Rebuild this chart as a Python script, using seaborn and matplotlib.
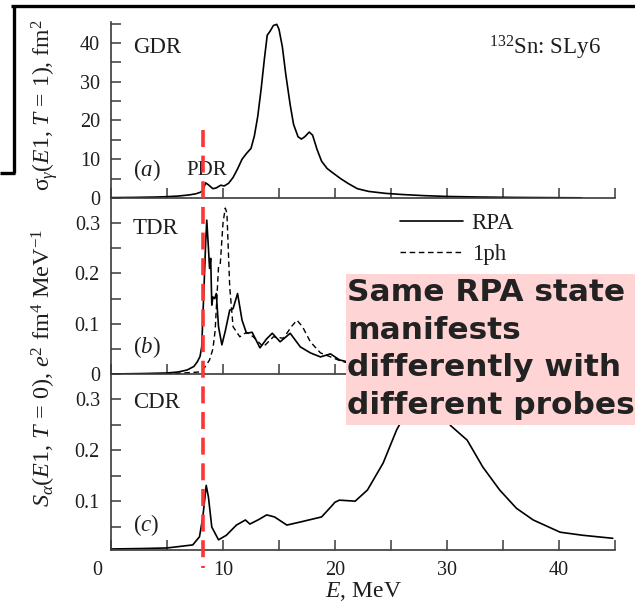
import matplotlib
matplotlib.use("Agg")
import matplotlib.pyplot as plt
import seaborn as sns
import numpy as np
from matplotlib.lines import Line2D
from matplotlib.patches import Rectangle
import matplotlib.transforms as mtransforms

# ---------------- data ----------------
# Panel (a): photoabsorption cross section, GDR
E_a = [0, 2, 4, 5, 6, 7, 7.6, 8.0, 8.2, 8.45, 8.7, 9.1, 9.4, 9.8, 10.1, 10.5,
       10.9, 11.3, 11.7, 12.1, 12.5, 12.8, 13.1, 13.4, 13.7, 13.95, 14.2, 14.5,
       14.8, 15.0, 15.3, 15.6, 16.0, 16.3, 16.7, 17.0, 17.3, 17.7, 18.0, 18.4,
       18.8, 19.3, 19.8, 20.5, 21.2, 22.0, 23.0, 24.5, 26, 28, 30, 33, 36, 40, 42]
sigma_a = [0.1, 0.15, 0.25, 0.35, 0.5, 0.8, 1.1, 1.5, 2.0, 3.9, 3.4, 2.4, 2.6, 3.3, 3.1, 3.8,
           5.3, 7.5, 10.0, 11.5, 12.8, 16.0, 21.0, 28.0, 36.0, 42.0, 43.0, 44.5,
           44.8, 43.5, 39.0, 32.0, 24.0, 19.0, 15.8, 15.2, 15.8, 17.0, 16.2, 12.5,
           9.5, 7.6, 6.5, 5.0, 3.7, 2.4, 1.7, 1.2, 0.9, 0.6, 0.4, 0.25, 0.15, 0.08, 0.05]

# Panel (b): toroidal strength, RPA and 1ph
E_b_rpa = [0, 3, 5, 6, 6.8, 7.4, 7.7, 7.95, 8.1, 8.3, 8.45, 8.55, 8.7, 8.8, 8.9,
           9.0, 9.1, 9.25, 9.4, 9.6, 9.9, 10.2, 10.6, 10.9, 11.3, 11.7, 12.1, 12.6,
           13.3, 13.9, 14.4, 15.1, 16.0, 16.9, 17.8, 18.7, 19.6, 20.4, 21.5, 23, 25]
S_b_rpa = [0.0, 0.001, 0.002, 0.004, 0.008, 0.015, 0.024, 0.035, 0.054, 0.17, 0.26, 0.306, 0.25,
           0.21, 0.23, 0.137, 0.153, 0.15, 0.16, 0.094, 0.058, 0.085, 0.127, 0.13, 0.16, 0.107, 0.081, 0.083,
           0.052, 0.07, 0.081, 0.064, 0.081, 0.054, 0.042, 0.034, 0.04, 0.028, 0.022, 0.016, 0.01]
E_b_1ph = [0, 3, 5, 6.5, 7.9, 8.4, 8.8, 9.1, 9.3, 9.45, 9.6, 9.75, 10.0, 10.2,
           10.35, 10.6, 10.9, 11.5, 12.1, 12.7, 13.6, 14.5, 15.4, 16.1, 16.6, 17.1,
           17.8, 18.7, 19.6, 20.5, 21.5, 23, 25]
S_b_1ph = [0.0, 0.0, 0.001, 0.002, 0.004, 0.014, 0.028, 0.05, 0.087, 0.15, 0.213, 0.217, 0.30, 0.33,
           0.32, 0.173, 0.094, 0.074, 0.083, 0.074, 0.054, 0.074, 0.071, 0.094, 0.107, 0.094,
           0.064, 0.042, 0.034, 0.026, 0.02, 0.014, 0.009]

# Panel (c): compressional strength
E_c = [0, 3, 5, 7.3, 7.9, 8.2, 8.5, 8.7, 9.0, 9.6, 10.3, 11.2, 12.0, 12.4, 13.2,
       13.9, 14.6, 15.7, 16.9, 18.8, 19.6, 20.0, 20.4, 21.8, 22.9, 24.3, 25.5,
       26.0, 27.0, 28.0, 28.7, 29.5, 30.3, 31.8, 33.2, 34.7, 36.2, 37.7, 40.1,
       42.1, 44.8]
S_c = [0.006, 0.007, 0.008, 0.014, 0.03, 0.069, 0.131, 0.108, 0.049, 0.024, 0.033, 0.053,
       0.063, 0.055, 0.064, 0.073, 0.069, 0.053, 0.059, 0.069, 0.088, 0.098, 0.102, 0.1,
       0.122, 0.175, 0.24, 0.26, 0.30, 0.325, 0.33, 0.31, 0.249, 0.22, 0.167, 0.122,
       0.086, 0.063, 0.039, 0.033, 0.027]

E_marker = 8.2  # red dashed line position (MeV)

xticks = [0, 5, 10, 15, 20, 25, 30, 35, 40, 45]
xticklabels = ["", "", "10", "", "20", "", "30", "", "40", ""]
yticks_a = [0, 5, 10, 15, 20, 25, 30, 35, 40, 45]
yticklabels_a = ["0", "", "10", "", "20", "", "30", "", "40", ""]
yticks_b = [0, 0.05, 0.1, 0.15, 0.2, 0.25, 0.3]
yticklabels_b = ["0", "", "0.1", "", "0.2", "", "0.3"]
yticks_c = [0.05, 0.1, 0.15, 0.2, 0.25, 0.3]
yticklabels_c = ["", "0.1", "", "0.2", "", "0.3"]

# ---------------- style ----------------
sns.set_style("ticks")
plt.rcParams["font.family"] = ["Liberation Serif", "DejaVu Serif"]
plt.rcParams["mathtext.fontset"] = "custom"
plt.rcParams["mathtext.rm"] = "Liberation Serif"
plt.rcParams["mathtext.it"] = "Liberation Serif:italic"
plt.rcParams["mathtext.bf"] = "Liberation Serif:bold"

TXT = "#1e1e1e"
SPINE = "#3a3a3a"
FS_TICK = 14.5
FS = 16.5

W, H = 635, 603
fig = plt.figure(figsize=(W / 100, H / 100), dpi=100)

def px_axes(top, bottom, left=111, right=615):
    return fig.add_axes([left / W, 1 - bottom / H, (right - left) / W, (bottom - top) / H])

ax_a = px_axes(22, 198)
ax_b = px_axes(198, 374)
ax_c = px_axes(374, 550)

line_kw = dict(color="black", linewidth=1.2)
sns.lineplot(x=E_a, y=sigma_a, ax=ax_a, **line_kw)
sns.lineplot(x=E_b_rpa, y=S_b_rpa, ax=ax_b, **line_kw)
sns.lineplot(x=E_b_1ph, y=S_b_1ph, ax=ax_b, color="black", linewidth=1.0)
ax_b.lines[-1].set_dashes((4, 2.6))
sns.lineplot(x=E_c, y=S_c, ax=ax_c, **line_kw)

for ax in (ax_a, ax_b, ax_c):
    ax.set_xlim(0, 45)
    ax.set_xticks(xticks)
    ax.spines["top"].set_visible(False)
    ax.spines["right"].set_visible(False)
    for s in ("left", "bottom"):
        ax.spines[s].set_color(SPINE)
        ax.spines[s].set_linewidth(1.2)
    ax.tick_params(direction="in", length=7, width=1.1, color=SPINE,
                   labelsize=FS_TICK, labelcolor=TXT, pad=8)
    ax.set_xlabel("")
    ax.set_ylabel("")
    ax.patch.set_alpha(0)

ax_a.set_ylim(0, 45.4)
ax_a.set_yticks(yticks_a)
ax_a.set_yticklabels(yticklabels_a)
ax_a.tick_params(labelbottom=False)

ax_b.set_ylim(0, 0.35)
ax_b.set_yticks(yticks_b)
ax_b.set_yticklabels(yticklabels_b)
ax_b.tick_params(labelbottom=False)

ax_c.set_ylim(0.004, 0.35)
ax_c.set_yticks(yticks_c)
ax_c.set_yticklabels(yticklabels_c)
ax_c.set_xticklabels(xticklabels)
ax_c.text(-1.2, -0.115, "0", transform=ax_c.get_xaxis_transform(),
          ha="center", va="center", fontsize=FS_TICK, color=TXT)
ax_c.set_xlabel(r"$E$, MeV", fontsize=FS + 0.5, color=TXT, labelpad=0)

# y labels
fig.text(44 / W, 1 - 105 / H, r"$\mathrm{\sigma}_\gamma$($E$1, $T$ = 1), fm$^2$",
         rotation=90, ha="center", va="center", fontsize=17, color=TXT)
fig.text(44 / W, 1 - 368 / H, r"$S_\alpha$($E$1, $T$ = 0), $e^2$ fm$^4$ MeV$^{-1}$",
         rotation=90, ha="center", va="center", fontsize=17.5, color=TXT)

# in-panel labels
ax_a.text(1.95, 38.8, "GDR", fontsize=FS, color=TXT, va="center", ha="left")
ax_a.text(1.95, 7.2, r"($a$)", fontsize=FS, color=TXT, va="center", ha="left")
ax_a.text(8.5, 7.2, "PDR", fontsize=FS - 1.5, color=TXT, va="center", ha="center")
ax_a.text(43.7, 38.8, r"$^{132}$Sn: SLy6", fontsize=FS, color=TXT, va="center", ha="right")
ax_b.text(1.95, 0.29, "TDR", fontsize=FS, color=TXT, va="center", ha="left")
ax_b.text(1.95, 0.054, r"($b$)", fontsize=FS, color=TXT, va="center", ha="left")
ax_c.text(1.95, 0.294, "CDR", fontsize=FS, color=TXT, va="center", ha="left")
ax_c.text(1.95, 0.053, r"($c$)", fontsize=FS, color=TXT, va="center", ha="left")

# legend
handles = [Line2D([], [], color="black", linewidth=1.2),
           Line2D([], [], color="black", linewidth=1.0, dashes=(4, 2.6))]
leg = ax_b.legend(handles, ["RPA", "1ph"], loc="upper left",
                  bbox_to_anchor=(400 / W, 1 - 213 / H), bbox_transform=fig.transFigure,
                  frameon=False, handlelength=2.75, handletextpad=0.38, labelspacing=0.42,
                  borderpad=0, borderaxespad=0, fontsize=FS)
for t in leg.get_texts():
    t.set_color(TXT)

# red dashed marker line spanning the panels
blend = mtransforms.blended_transform_factory(ax_c.transData, fig.transFigure)
fig.add_artist(Line2D([E_marker, E_marker], [1 - 130 / H, 1 - 568 / H], transform=blend,
                      color="#ff3535", linewidth=2.6, dashes=(4.7, 2.4), zorder=20))

# annotation box
fig.add_artist(Rectangle((346 / W, 1 - 425 / H), (W - 346) / W, (425 - 274) / H,
                         transform=fig.transFigure, facecolor="#ffd4d4", edgecolor="none", zorder=30))
fig.text(347 / W, 1 - 278 / H, "Same RPA state\nmanifests\ndifferently with\ndifferent probes",
         fontsize=22.5, fontweight="bold", family="DejaVu Sans", color="#222222",
         ha="left", va="top", linespacing=1.37, zorder=31)

# black overlay frame at the top-left
frame_kw = dict(transform=fig.transFigure, color="black", linewidth=2.4, zorder=40,
                solid_capstyle="butt")
fig.add_artist(Line2D([11 / W, 1], [1 - 6 / H, 1 - 6 / H], **frame_kw))
fig.add_artist(Line2D([13.5 / W, 13.5 / W], [1 - 6 / H, 1 - 173 / H], **frame_kw))
fig.add_artist(Line2D([0, 14.5 / W], [1 - 173 / H, 1 - 173 / H], **frame_kw))

fig.savefig("out.png", dpi=100)
